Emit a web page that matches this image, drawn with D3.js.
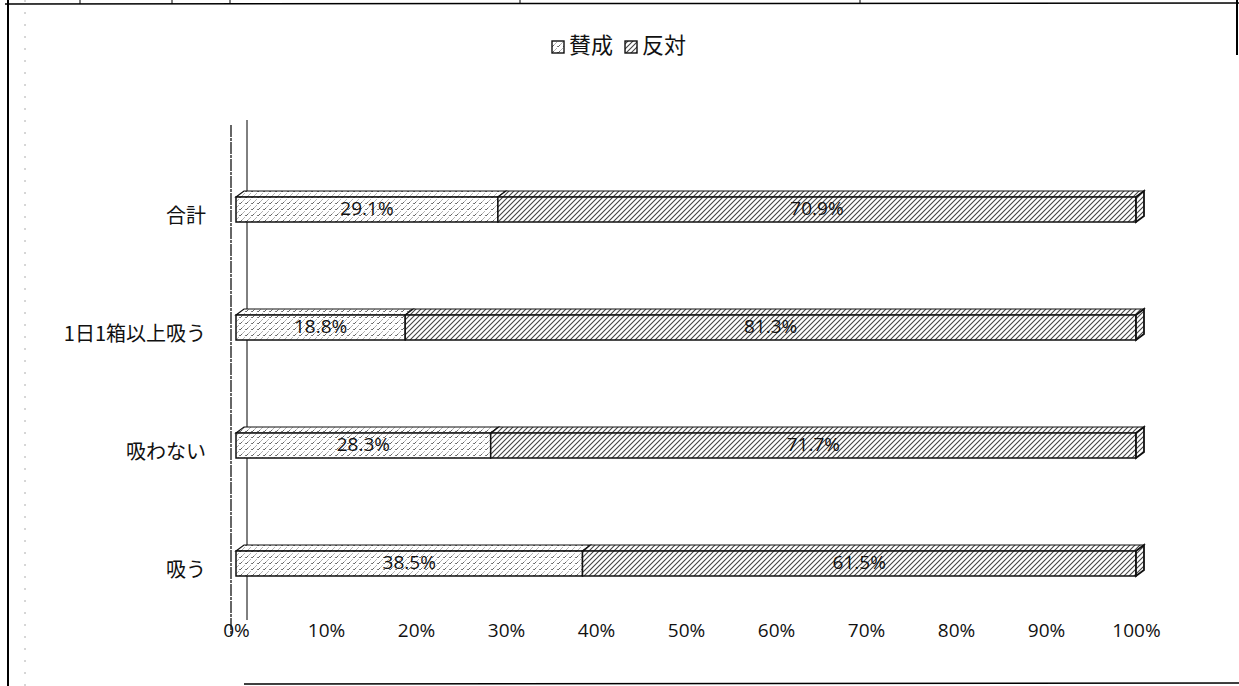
<!DOCTYPE html>
<html><head><meta charset="utf-8">
<script src="https://cdn.jsdelivr.net/npm/d3@7/dist/d3.min.js"></script>
<style>html,body{margin:0;padding:0;background:#fff;}svg{display:block;}</style>
</head><body>
<svg id="chart" width="1239" height="686"></svg>
<script>
const categories = ["合計", "1日1箱以上吸う", "吸わない", "吸う"];
const agree = [29.1, 18.8, 28.3, 38.5];
const disagree = [70.9, 81.3, 71.7, 61.5];
const seriesNames = ["賛成", "反対"];
const tickValues = [0, 10, 20, 30, 40, 50, 60, 70, 80, 90, 100];

(function () {
const svg = d3.select("#chart");
const font = "'Noto Sans CJK JP','Noto Sans',sans-serif";
const numFont = "'Open Sans','Noto Sans',sans-serif";

// patterns
const defs = svg.append("defs");
const p1 = defs.append("pattern").attr("id", "pAgree").attr("patternUnits", "userSpaceOnUse")
  .attr("width", 6).attr("height", 6);
p1.append("rect").attr("width", 6).attr("height", 6).attr("fill", "#fff");
p1.append("path").attr("d", "M0,6 L2.5,3.5 M3.5,2.5 L4.5,1.5").attr("stroke", "#666").attr("stroke-width", 1);
p1.append("circle").attr("cx", 5.5).attr("cy", 5.5).attr("r", 0.6).attr("fill", "#777");
const p2 = defs.append("pattern").attr("id", "pDis").attr("patternUnits", "userSpaceOnUse")
  .attr("width", 5).attr("height", 5);
p2.append("rect").attr("width", 5).attr("height", 5).attr("fill", "#fff");
p2.append("path").attr("d", "M0,5 L5,0 M-1,1 L1,-1 M4,6 L6,4").attr("stroke", "#444").attr("stroke-width", 1.1);

// frame
svg.append("line").attr("x1", 8).attr("x2", 8).attr("y1", 0).attr("y2", 686).attr("stroke", "#000").attr("stroke-width", 2);
svg.append("line").attr("x1", 5).attr("x2", 1239).attr("y1", 4).attr("y2", 3).attr("stroke", "#000").attr("stroke-width", 1.5);
[80, 172, 230, 520, 860].forEach(xx => svg.append("line").attr("x1", xx).attr("x2", xx).attr("y1", 0).attr("y2", 4).attr("stroke", "#000"));
svg.append("line").attr("x1", 1237).attr("x2", 1237).attr("y1", 0).attr("y2", 55).attr("stroke", "#000").attr("stroke-width", 2);
svg.append("line").attr("x1", 244).attr("x2", 1239).attr("y1", 684).attr("y2", 683).attr("stroke", "#000").attr("stroke-width", 1.5);
svg.append("line").attr("x1", 25).attr("x2", 25).attr("y1", 0).attr("y2", 686).attr("stroke", "#999").attr("stroke-width", 0.8).attr("stroke-dasharray", "2,10");

const x = d3.scaleLinear().domain([0, 100]).range([236, 1136]);
const y = d3.scalePoint().domain(categories).range([149, 621]).padding(0.5);

// axis lines
svg.append("line").attr("x1", 231).attr("x2", 231).attr("y1", 125).attr("y2", 636).attr("stroke", "#000").attr("stroke-width", 1.2).attr("stroke-dasharray", "12,1,3,1");
svg.append("line").attr("x1", 247).attr("x2", 247).attr("y1", 120).attr("y2", 620).attr("stroke", "#000").attr("stroke-width", 1);

// x axis labels
const xAxis = d3.axisBottom(x).tickValues(tickValues).tickFormat(d => d + "%").tickSize(0).tickPadding(0);
const gx = svg.append("g").attr("transform", "translate(0,622)").call(xAxis);
gx.select(".domain").remove();
gx.selectAll("text").attr("font-family", numFont).attr("font-size", 19).attr("fill", "#111").attr("dy", "0.8em");

// category labels
const yAxis = d3.axisLeft(y).tickSize(0).tickPadding(0);
const gy = svg.append("g").attr("transform", "translate(206,8)").call(yAxis);
gy.select(".domain").remove();
gy.selectAll("text").attr("font-family", font).attr("font-size", 20).attr("fill", "#111");

// bars
const dx = 8, dy = 6, yTop = -11, yBot = 14;
const rows = categories.map((c, i) => ({ c, segs: [
  { s: 0, v0: 0, v1: agree[i], val: agree[i] },
  { s: 1, v0: agree[i], v1: agree[i] + disagree[i], val: disagree[i] }
]}));
const fills = ["url(#pAgree)", "url(#pDis)"];
rows.forEach(r => {
  const cy = y(r.c);
  const g = svg.append("g");
  r.segs.forEach(sg => {
    const x0 = x(sg.v0), x1 = x(Math.min(sg.v1, 100));
    g.append("path").attr("d", `M${x0},${cy + yTop} L${x0 + dx},${cy + yTop - dy} L${x1 + dx},${cy + yTop - dy} L${x1},${cy + yTop} Z`)
      .attr("fill", fills[sg.s]).attr("stroke", "#111").attr("stroke-width", 1.2);
    g.append("rect").attr("x", x0).attr("y", cy + yTop).attr("width", x1 - x0).attr("height", yBot - yTop)
      .attr("fill", fills[sg.s]).attr("stroke", "#111").attr("stroke-width", 1.5);
    if (sg.s === 1) {
      g.append("path").attr("d", `M${x1},${cy + yTop} L${x1 + dx},${cy + yTop - dy} L${x1 + dx},${cy + yBot - dy} L${x1},${cy + yBot} Z`)
        .attr("fill", fills[1]).attr("stroke", "#111").attr("stroke-width", 1.8);
    }
    g.append("text").attr("x", (x0 + x1) / 2).attr("y", cy + 2).attr("text-anchor", "middle")
      .attr("dominant-baseline", "middle").attr("font-family", numFont).attr("font-size", 19).attr("fill", "#111")
      .text(sg.val.toFixed(1) + "%");
  });
});

// legend
const lg = svg.append("g").attr("transform", "translate(552,47)");
let lx = 0;
seriesNames.forEach((n, i) => {
  lg.append("rect").attr("x", lx).attr("y", -6).attr("width", 12).attr("height", 12)
    .attr("fill", fills[i]).attr("stroke", "#111").attr("stroke-width", 1.4);
  const t = lg.append("text").attr("x", lx + 17).attr("y", 0).attr("dominant-baseline", "middle")
    .attr("font-family", font).attr("font-size", 22).attr("fill", "#111").text(n);
  lx += 17 + t.node().getComputedTextLength() + 12;
});
})();
</script>
</body></html>
